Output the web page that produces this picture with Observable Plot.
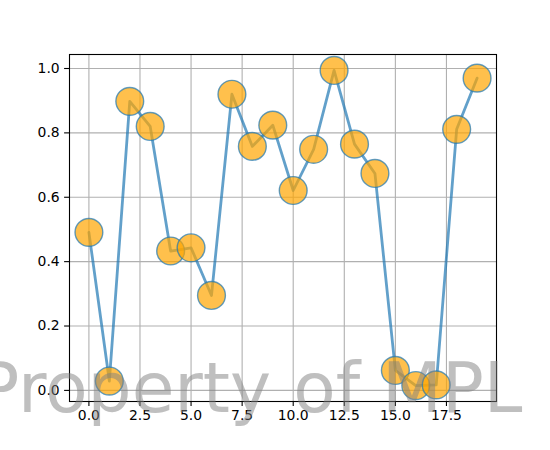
<!DOCTYPE html>
<html>
<head>
<meta charset="utf-8">
<script src="https://cdn.jsdelivr.net/npm/d3@7"></script>
<script src="https://cdn.jsdelivr.net/npm/@observablehq/plot@0.6"></script>
<style>
  html, body { margin: 0; padding: 0; background: white; }
</style>
</head>
<body>
<div id="chart"></div>
<script>
const xs = [0, 1, 2, 3, 4, 5, 6, 7, 8, 9, 10, 11, 12, 13, 14, 15, 16, 17, 18, 19];
const ys = [0.491, 0.029, 0.898, 0.820, 0.433, 0.443, 0.295, 0.920, 0.758, 0.824,
            0.621, 0.749, 0.994, 0.765, 0.674, 0.062, 0.015, 0.017, 0.811, 0.970];
const xTicks = [0, 2.5, 5, 7.5, 10, 12.5, 15, 17.5];
const yTicks = [0, 0.2, 0.4, 0.6, 0.8, 1.0];
const watermark = "Property of MPL";

const data = xs.map((x, i) => ({x, y: ys[i]}));
const fmt = d3.format(".1f");

const chart = Plot.plot({
  width: 550,
  height: 450,
  marginLeft: 69,
  marginRight: 54,
  marginTop: 54,
  marginBottom: 49,
  style: {fontFamily: "DejaVu Sans", fontSize: "13.9px", background: "white", color: "black"},
  x: {domain: [-0.95, 19.95]},
  y: {domain: [-0.0345, 1.0435]},
  marks: [
    Plot.gridX(xTicks, {stroke: "#b0b0b0", strokeOpacity: 1, strokeWidth: 1.1}),
    Plot.gridY(yTicks, {stroke: "#b0b0b0", strokeOpacity: 1, strokeWidth: 1.1}),
    Plot.axisX(xTicks, {tickFormat: fmt, tickSize: 4.9, tickPadding: 4, fontSize: 13.9, label: null, strokeWidth: 1.1}),
    Plot.axisY(yTicks, {tickFormat: fmt, tickSize: 4.9, tickPadding: 4.9, fontSize: 13.9, label: null, strokeWidth: 1.1}),
    Plot.line(data, {x: "x", y: "y", stroke: "#1f77b4", strokeOpacity: 0.7, strokeWidth: 2.8}),
    Plot.dot(data, {x: "x", y: "y", r: 13.9, fill: "#ffa500", fillOpacity: 0.7, stroke: "#1f77b4", strokeOpacity: 0.7, strokeWidth: 1.4}),
    Plot.frame({stroke: "black", strokeWidth: 1.1})
  ]
});

d3.select(chart).append("text")
  .attr("x", 522.5)
  .attr("y", 412)
  .attr("text-anchor", "end")
  .attr("font-family", "DejaVu Sans")
  .attr("font-size", "69.4px")
  .attr("fill", "gray")
  .attr("fill-opacity", 0.5)
  .text(watermark);

document.getElementById("chart").appendChild(chart);
</script>
</body>
</html>
